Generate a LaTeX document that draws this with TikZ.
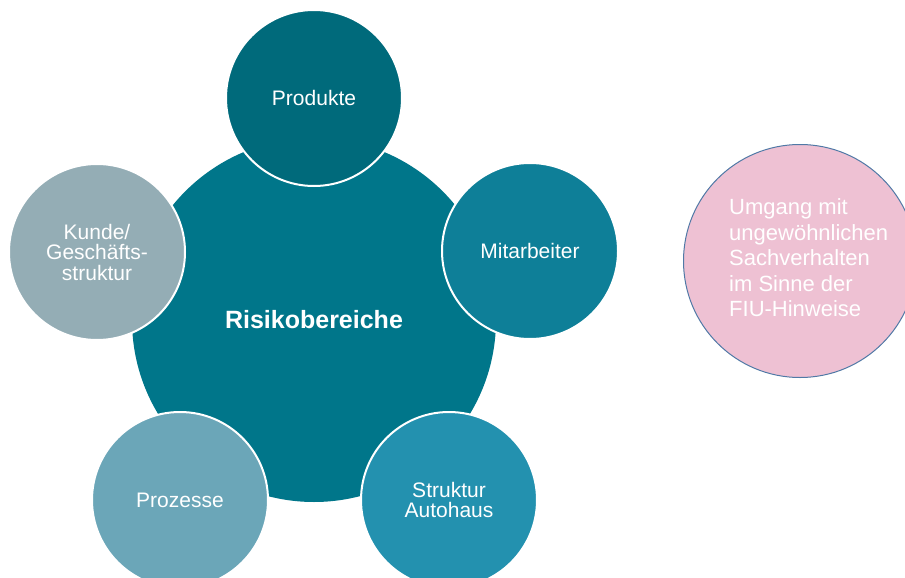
\documentclass[tikz,border=0pt]{standalone}
\usepackage{fontspec}
\setmainfont{Liberation Sans}
\definecolor{cmain}{HTML}{00768A}
\definecolor{cprod}{HTML}{006A7B}
\definecolor{cmit}{HTML}{0E7F98}
\definecolor{cstr}{HTML}{2391AF}
\definecolor{cproz}{HTML}{6BA6B8}
\definecolor{ckunde}{HTML}{94ADB5}
\definecolor{cpink}{HTML}{EEC1D3}
\definecolor{cpinkb}{HTML}{5079A6}
\begin{document}
\begin{tikzpicture}[x=1pt,y=1pt,
  sat/.style={circle,draw=white,line width=2pt,minimum size=176pt,inner sep=0pt,
    text=white,align=center,font=\fontsize{21}{20.5}\selectfont},
  hub/.style={circle,fill=cmain,minimum size=364pt,inner sep=0pt,
    text=white,font=\fontsize{25}{28}\selectfont\bfseries}]
\useasboundingbox (0,0) rectangle (905,-578);
\node[hub] (main) at (314,-320) {Risikobereiche};
\node[sat,fill=cprod] (prod) at (314,-98) {Produkte};
\node[sat,fill=cmit] (mit) at (530,-251) {Mitarbeiter};
\node[sat,fill=cstr] (str) at (449,-500) {Struktur\\Autohaus};
\node[sat,fill=cproz] (proz) at (180,-500) {Prozesse};
\node[sat,fill=ckunde] (kunde) at (97,-252) {Kunde/\\Geschäfts-\\struktur};
\node[circle,fill=cpink,draw=cpinkb,line width=1pt,minimum size=233pt,inner sep=0pt] (fiu) at (800,-261) {};
\node[anchor=west,align=left,inner sep=0pt,text=white,font=\fontsize{22}{25.5}\selectfont] (fiutext) at (729,-258) {Umgang mit\\ungewöhnlichen\\Sachverhalten\\im Sinne der\\FIU-Hinweise};
\end{tikzpicture}
\end{document}
